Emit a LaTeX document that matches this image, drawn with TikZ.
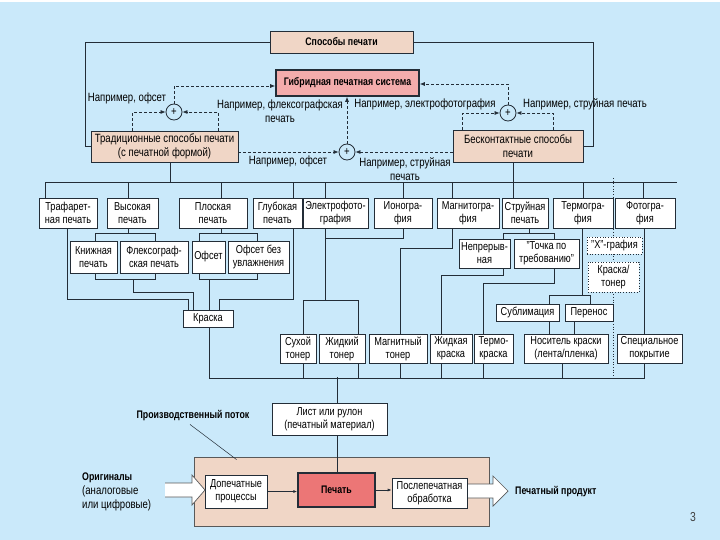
\documentclass[tikz,border=0pt]{standalone}
\usepackage{fontspec}
\setmainfont{Liberation Sans}[FakeStretch=0.8]
\usetikzlibrary{arrows.meta,calc,backgrounds}
\definecolor{bgc}{RGB}{202,233,250}
\definecolor{peach}{RGB}{240,214,198}
\definecolor{gibc}{RGB}{243,172,172}
\definecolor{pechc}{RGB}{236,118,118}
\definecolor{lc}{RGB}{35,45,55}
\newcommand\fbx{\fontsize{11.5}{13}\selectfont}
\newcommand\flb{\fontsize{12}{14}\selectfont}
\newcommand\fbd{\fontsize{11}{12}\selectfont\bfseries}
\tikzset{
 bx/.style={draw=lc, fill=white, line width=0.7pt, inner sep=0pt, align=center, font=\fbx, text=black},
 pbx/.style={bx, fill=peach},
 dbx/.style={bx, dotted, line width=0.9pt},
 lbl/.style={inner sep=0pt, font=\flb, align=center},
 wire/.style={draw=lc, line width=0.7pt},
 dsh/.style={draw=lc, line width=0.7pt, dash pattern=on 3pt off 2pt, -{Latex[length=5pt,width=4pt]}},
 plus/.style={circle, draw=lc, fill=bgc, line width=0.8pt, minimum size=16pt, inner sep=0pt, font=\fontsize{12}{12}\selectfont},
 harrow/.style={draw=gray!70!black, fill=white, line width=0.7pt},
 arr/.style={wire, -{Latex[length=4pt,width=3pt]}},
}
\begin{document}
\begin{tikzpicture}[x=1pt,y=-1pt]
\useasboundingbox (0,0) rectangle (720,540);
% ---- top part
\node[pbx, minimum width=143pt, minimum height=22pt, font=\fbd] (sp) at (341.5,42) {Способы печати};
\node[bx, fill=gibc, line width=1.6pt, minimum width=143pt, minimum height=26pt, font=\fbd] (gib) at (347.5,83) {Гибридная печатная система};
\node[pbx, minimum width=147pt, minimum height=31pt, font=\flb] (trad) at (164.5,146.5) {Традиционные способы печати\\(с печатной формой)};
\node[pbx, minimum width=130pt, minimum height=32pt, font=\flb] (bes) at (518,146) {Бесконтактные способы\\печати};
\node[plus] (c1) at (174,112) {+};
\node[plus] (c2) at (347,152) {+};
\node[plus] (c3) at (508,113) {+};
\node[lbl] (l1) at (127,98) {Например, офсет};
\node[lbl] (l2) at (280,111) {Например, флексографская\\печать};
\node[lbl] (l3) at (425,104) {Например, электрофотография};
\node[lbl] (l4) at (585,104) {Например, струйная печать};
\node[lbl] (l5) at (288,161) {Например, офсет};
\node[lbl] (l6) at (405,169) {Например, струйная\\печать};
% ---- level 1
\node[bx, minimum width=58pt, minimum height=30pt] (traf) at (68,213) {Трафарет-\\ная печать};
\node[bx, minimum width=51pt, minimum height=30pt] (vys) at (132.5,213) {Высокая\\печать};
\node[bx, minimum width=68pt, minimum height=30pt] (plo) at (213,213) {Плоская\\печать};
\node[bx, minimum width=49pt, minimum height=30pt] (glu) at (277.5,213) {Глубокая\\печать};
\node[bx, minimum width=65pt, minimum height=30pt] (ele) at (335.5,213) {Электрофото-\\графия};
\node[bx, minimum width=58pt, minimum height=30pt] (ion) at (403,213) {Ионогра-\\фия};
\node[bx, minimum width=62pt, minimum height=30pt] (mag) at (468,213) {Магнитогра-\\фия};
\node[bx, minimum width=46pt, minimum height=30pt] (str) at (525,213) {Струйная\\печать};
\node[bx, minimum width=60pt, minimum height=30pt] (ter) at (583,213) {Термогра-\\фия};
\node[bx, minimum width=60pt, minimum height=30pt] (fot) at (645,213) {Фотогра-\\фия};
% ---- level 2
\node[bx, minimum width=47pt, minimum height=32pt] (kni) at (93.5,257) {Книжная\\печать};
\node[bx, minimum width=68pt, minimum height=32pt] (fle) at (154,257) {Флексограф-\\ская печать};
\node[bx, minimum width=33pt, minimum height=32pt] (ofs) at (208.5,257) {Офсет};
\node[bx, minimum width=61pt, minimum height=32pt] (obu) at (258.5,257) {Офсет без\\увлажнения};
\node[bx, minimum width=50pt, minimum height=17pt] (kra) at (208,318.5) {Краска};
\node[bx, minimum width=51pt, minimum height=29pt] (nep) at (484.5,253.5) {Непрерыв-\\ная};
\node[bx, minimum width=65pt, minimum height=29pt] (toc) at (546.5,253.5) {"Точка по\\требованию"};
\node[dbx, minimum width=55pt, minimum height=17pt] (xgr) at (614.5,245.5) {"X"-графия};
\node[dbx, minimum width=51pt, minimum height=30pt] (kto) at (613.5,277) {Краска/\\тонер};
\node[bx, minimum width=63pt, minimum height=17pt] (sub) at (527.5,312.5) {Сублимация};
\node[bx, minimum width=48pt, minimum height=17pt] (per) at (589,312.5) {Перенос};
% ---- level 3
\node[bx, minimum width=36pt, minimum height=29pt] (suh) at (298,348.5) {Сухой\\тонер};
\node[bx, minimum width=46pt, minimum height=29pt] (zhi) at (342,348.5) {Жидкий\\тонер};
\node[bx, minimum width=58pt, minimum height=29pt] (mgt) at (398,348.5) {Магнитный\\тонер};
\node[bx, minimum width=42pt, minimum height=29pt] (zhk) at (451,348.5) {Жидкая\\краска};
\node[bx, minimum width=39pt, minimum height=29pt] (tmk) at (493.5,348.5) {Термо-\\краска};
\node[bx, minimum width=84pt, minimum height=29pt] (nos) at (566,348.5) {Носитель краски\\(лента/пленка)};
\node[bx, minimum width=65pt, minimum height=29pt] (spe) at (649.5,348.5) {Специальное\\покрытие};
\node[bx, minimum width=115pt, minimum height=32pt] (list) at (329.5,419) {Лист или рулон\\(печатный материал)};
% ---- production flow
\node[bx, minimum width=62pt, minimum height=33pt] (pre) at (236,491.5) {Допечатные\\процессы};
\node[bx, fill=pechc, line width=1.5pt, minimum width=77pt, minimum height=34pt, font=\fbd] (pech) at (336.5,490) {Печать};
\node[bx, minimum width=75pt, minimum height=30pt] (post) at (429.5,493) {Послепечатная\\обработка};
\node[lbl, font=\fbd] (pp) at (193,416) {Производственный поток};
\node[lbl, align=left, anchor=west] (orig) at (82,492) {{\fbd Оригиналы}\\(аналоговые\\или цифровые)};
\node[lbl, font=\fbd, anchor=west] (prod) at (515,492) {Печатный продукт};
\node[lbl, font=\fontsize{13}{13}\selectfont, text=black!75] (num) at (693,517) {3};
% ---- dashed arrows
\draw[dsh] (c1.north) |- ([yshift=-3pt]gib.west);
\draw[dsh] ([xshift=42pt]trad.north west) |- (c1.west);
\draw[dsh] ([xshift=128pt]trad.north west) |- (c1.east);
\draw[dsh] (c2.west -| trad.east) -- (c2.west);
\draw[dsh] (c2.east -| bes.west) -- (c2.east);
\draw[dsh] (c2.north) -- (c2.north |- gib.south);
\draw[dsh] (c3.north) |- ([yshift=-1pt]gib.east);
\draw[dsh] ([xshift=10pt]bes.north west) |- (c3.west);
\draw[dsh] ([xshift=101pt]bes.north west) |- (c3.east);
\draw[arr] (pre.east) -- (pre.east -| pech.west);
\draw[arr] (pech.east) -- (pech.east -| post.west);
% hollow arrows
\draw[harrow] (165,483) -- (192,483) -- (192,475) -- (205,490) -- (192,505) -- (192,497) -- (165,497);
\draw[harrow] (468,484) -- (493,484) -- (493,476) -- (508,491) -- (493,506) -- (493,498) -- (468,498);
\begin{pgfonlayer}{background}
\fill[bgc] (0,0) rectangle (720,540);
\fill[white] (0,0) rectangle (720,2.5);
\node[draw=gray!70!black, fill=peach, line width=0.8pt, minimum width=295pt, minimum height=69pt, inner sep=0pt] (flow) at (341.5,491.5) {};
\draw[wire, line width=0.5pt] ($(pp.south)+(-3,3)$) -- ($(flow.north west)+(43,3)$);
% top frame lines
\coordinate (tl) at (85,42);
\coordinate (tr) at (593,42);
\draw[wire] (sp.west) -- (tl) |- (trad.west);
\draw[wire] (sp.east) -- (tr) |- (bes.east);
% bus 1
\coordinate (b1L) at (45,182);
\coordinate (b1R) at (677,182);
\draw[wire] (b1L) -- (b1R);
\draw[wire] ($(trad.south)+(5.5,0)$) -- ++(0,20);
\draw[wire] ($(bes.south)+(-5,0)$) -- ($(str.north)+(-12,0)$);
\draw[wire] ($(traf.north)+(-23,0)$) -- ++(0,-16);
\draw[wire] ($(vys.north)+(-4.5,0)$) -- ++(0,-16);
\draw[wire] ($(plo.north)+(8,0)$) -- ++(0,-16);
\draw[wire] ($(glu.north)+(15.5,0)$) -- ++(0,-16);
\draw[wire] ($(ele.north)+(-10.5,0)$) -- ++(0,-16);
\draw[wire] (ion.north) -- ++(0,-16);
\draw[wire] ($(mag.north)+(-16,0)$) -- ++(0,-16);
\draw[wire] (ter.north) -- ++(0,-16);
\draw[wire] ($(fot.north)+(-2,0)$) -- ++(0,-16);
% left subtree
\draw[wire] ($(vys.south)+(-4.5,0)$) -- ++(0,6);
\draw[wire] ($(kni.north)+(1.5,0)$) -- ++(0,-7) -| ($(fle.north)+(1,0)$);
\draw[wire] ($(kni.south)+(1.5,0)$) -- ++(0,6) -| ($(fle.south)+(1,0)$);
\draw[wire] ($(kni.south)+(39.5,6)$) -- ++(0,13) -| ($(kra.north)+(-15,0)$);
\draw[wire] ($(plo.south)+(8,0)$) -- ++(0,6);
\draw[wire] ($(ofs.north)+(-9.5,0)$) -- ++(0,-7) -| ($(obu.north)+(-1.5,0)$);
\draw[wire] ($(ofs.south)+(-9.5,0)$) -- ++(0,6) -| ($(obu.south)+(-1.5,0)$);
\draw[wire] ($(kra.north)+(1,0)$) -- ++(0,-31);
\draw[wire] ($(traf.south)+(-1,0)$) -- ++(0,71) -| ($(kra.north)+(-20,0)$);
\draw[wire] ($(glu.south)+(15.5,0)$) -- ++(0,71) -| ($(kra.north)+(11,0)$);
% bus 2
\coordinate (b2L) at (209,378);
\coordinate (b2R) at (645,378);
\draw[wire] (b2L) -- (b2R);
\draw[wire] ($(kra.south)+(1,0)$) -- (b2L);
% right subtree
\draw[wire] ($(ele.south)+(-10.5,0)$) -- ++(0,72);
\draw[wire] (ion.south) -- ++(0,10) -- ++(-78,0);
\draw[wire] ($(suh.north)+(5,0)$) -- ++(0,-33) -| ($(zhi.north)+(16,0)$);
\draw[wire] ($(suh.south)+(5,0)$) -- ++(0,15);
\draw[wire] ($(zhi.south)+(16,0)$) -- ++(0,15);
\draw[wire] ($(mag.south)+(-16,0)$) -- ++(0,20) -| ($(mgt.north)+(2,0)$);
\draw[wire] ($(mgt.south)+(2,0)$) -- ++(0,15);
\draw[wire] ($(str.south)+(4,0)$) -- ++(0,6);
\draw[wire] ($(nep.north)+(18.5,0)$) -- ++(0,-5) -| ($(toc.north)+(7.5,0)$);
\draw[wire] ($(nep.south)+(18.5,0)$) -- ++(0,7) -| ($(zhk.north)+(-10,0)$);
\draw[wire] ($(toc.south)+(7.5,0)$) -- ++(0,15) -| ($(tmk.north)+(-10.5,0)$);
\draw[wire] ($(zhk.south)+(-10,0)$) -- ++(0,15);
\draw[wire] ($(tmk.south)+(-10.5,0)$) -- ++(0,15);
\draw[wire] ($(ter.south)+(-1,0)$) -- ++(0,68);
\draw[wire] ($(sub.north)+(21.5,0)$) -- ++(0,-8) -| ($(per.north)+(1,0)$);
\draw[wire] ($(sub.south)+(21.5,0)$) -- ++(0,13);
\draw[wire] ($(per.south)+(-15,0)$) -- ++(0,13);
\draw[wire] ($(nos.south)+(-4,0)$) -- ++(0,15);
\draw[wire] ($(fot.south)+(-1,0)$) -- ($(spe.north)+(-5.5,0)$);
\draw[wire] ($(spe.south)+(-5.5,0)$) -- ++(0,15);
\draw[wire, dotted, line width=0.9pt] (613,178) -- (613,378);
% to printing
\draw[wire] ($(pech.north)+(0.5,0)$) -- ++(0,-95);
\end{pgfonlayer}
\end{tikzpicture}
\end{document}
